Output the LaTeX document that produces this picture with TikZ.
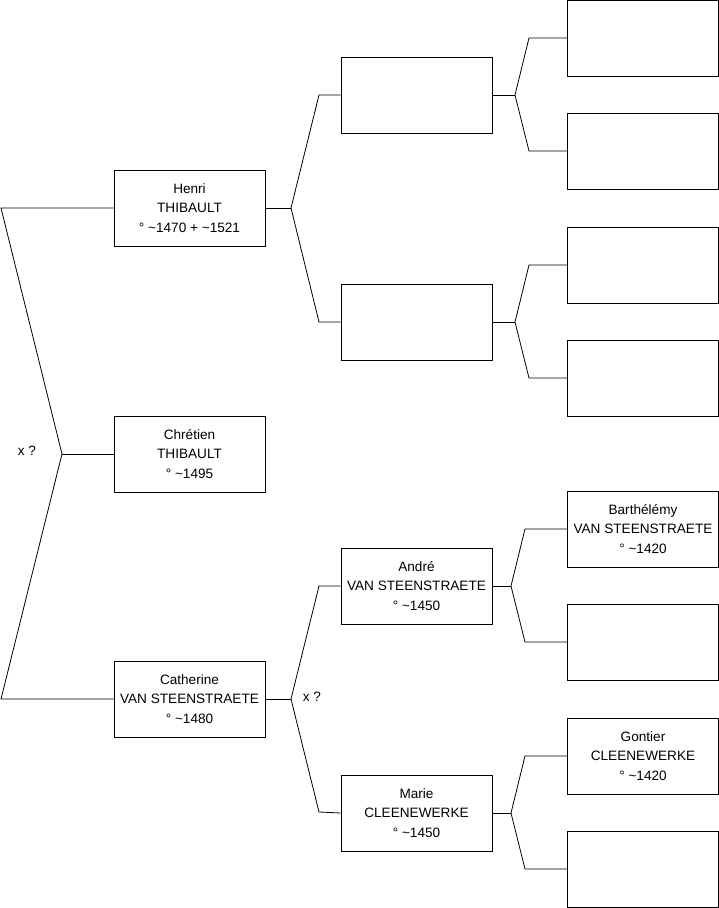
\documentclass[tikz,border=0pt]{standalone}
\usepackage{fontspec}
\setmainfont{Liberation Sans}
\usepackage{tikz}
\usetikzlibrary{positioning}

\begin{document}
\begin{tikzpicture}[x=1pt, y=-1pt, line width=0.8pt,
	person/.style={draw, minimum width=151pt, minimum height=76pt, inner sep=0pt, align=center, font=\fontsize{13.6}{19.6}\selectfont},
	note/.style={font=\fontsize{13.6}{15}\selectfont}]
			\useasboundingbox (0,0) rectangle (719,908);

			% generation 1
			\node[person] (henri) at (189.5,208) {Henri\\THIBAULT\\° \textasciitilde1470 + \textasciitilde1521};
			\node[person] (chretien) at (189.5,454) {Chrétien\\THIBAULT\\° \textasciitilde1495};
			\node[person] (catherine) at (189.5,699) {Catherine\\VAN STEENSTRAETE\\° \textasciitilde1480};

			% generation 2
			\node[person] (p1) at (416.5,95) {};
			\node[person] (p2) at (416.5,322) {};
			\node[person] (andre) at (416.5,586) {André\\VAN STEENSTRAETE\\° \textasciitilde1450};
			\node[person] (marie) at (416.5,813) {Marie\\CLEENEWERKE\\° \textasciitilde1450};

			% generation 3
			\node[person] (g1) at (643,38) {};
			\node[person] (g2) at (643,151) {};
			\node[person] (g3) at (643,265) {};
			\node[person] (g4) at (643,378) {};
			\node[person] (barthelemy) at (643,529) {Barthélémy\\VAN STEENSTRAETE\\° \textasciitilde1420};
			\node[person] (g6) at (643,642) {};
			\node[person] (gontier) at (643,756) {Gontier\\CLEENEWERKE\\° \textasciitilde1420};
			\node[person] (g8) at (643,869) {};

			\node[note] (x1) at (27,451) {x ?};
			\node[note] (x2) at (312,697) {x ?};

			% junctions
			\coordinate (a1) at (1,208);
			\coordinate (a2) at (62,454);
			\coordinate (a3) at (1,699);
			\coordinate (b1) at (291,208);
			\coordinate (b2) at (291,699);
			\coordinate (c1) at (515,95);
			\coordinate (c2) at (515,322);
			\coordinate (c3) at (511,586);
			\coordinate (c4) at (511,813);

			\draw (henri.west) -- (a1) -- (a2) -- (a3) -- (catherine.west);
			\draw (a2) -- (chretien.west);

			\draw (henri.east) -- (b1);
			\draw (b1) -- (319,95) -- (p1.west);
			\draw (b1) -- (319,322) -- (p2.west);
			\draw (catherine.east) -- (b2);
			\draw (b2) -- (319,586) -- (andre.west);
			\draw (b2) -- (319,812) -- (marie.west);

			\draw (p1.east) -- (c1);
			\draw (c1) -- (529,38) -- (g1.west);
			\draw (c1) -- (529,151) -- (g2.west);
			\draw (p2.east) -- (c2);
			\draw (c2) -- (529,265) -- (g3.west);
			\draw (c2) -- (529,378) -- (g4.west);
			\draw (andre.east) -- (c3);
			\draw (c3) -- (525,529) -- (barthelemy.west);
			\draw (c3) -- (525,642) -- (g6.west);
			\draw (marie.east) -- (c4);
			\draw (c4) -- (525,756) -- (gontier.west);
			\draw (c4) -- (525,869) -- (g8.west);

		\end{tikzpicture}
\end{document}
